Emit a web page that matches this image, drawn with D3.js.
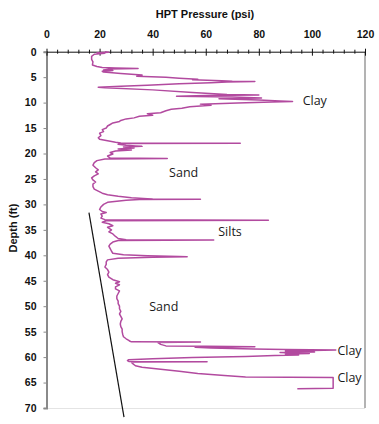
<!DOCTYPE html>
<html>
<head>
<meta charset="utf-8">
<script src="https://cdn.jsdelivr.net/npm/d3@7"></script>
<style>
  body { margin: 0; background: #fff; }
  svg { display: block; }
</style>
</head>
<body>
<svg id="chart" width="379" height="424"></svg>
<script>
// ---- Data (depth in ft, pressure in psi) ----
const depth = [
  0.0,0.1,0.2,0.3,0.5,0.9,1.5,2.0,2.6,2.9,3.1,3.2,3.3,3.4,3.6,3.7,3.85,4.0,
  4.3,4.6,4.8,5.0,5.2,5.4,5.5,5.7,5.8,5.85,5.95,6.1,
  6.3,6.6,6.8,7.0,7.1,
  7.5,8.0,8.4,8.5,8.6,8.75,8.9,9.1,9.25,9.5,9.7,9.8,9.9,10.1,10.3,10.5,10.8,11.1,11.3,11.6,12.0,12.2,12.5,12.7,13.0,13.2,13.5,13.7,14.0,14.3,
  14.6,15.0,15.3,15.7,16.0,16.5,16.9,17.2,17.5,17.8,17.95,18.0,18.05,18.2,18.4,18.6,18.7,18.9,19.1,19.3,19.5,19.8,20.1,20.5,20.9,21.0,21.1,21.4,
  21.8,22.3,22.8,23.2,23.6,24.0,24.4,24.8,25.2,25.6,26.0,26.5,27.0,27.4,27.8,28.1,28.4,28.7,28.9,28.95,29.0,29.05,29.2,29.4,
  29.6,30.0,30.5,31.0,31.4,31.6,31.9,32.3,32.7,33.0,33.1,33.2,33.5,33.8,34.2,34.5,35.0,35.4,35.8,36.3,36.7,36.95,37.0,37.1,37.4,37.8,38.2,38.7,39.2,39.6,39.9,40.1,40.25,40.3,40.4,40.6,40.9,41.3,41.8,42.3,42.8,43.3,
  43.8,44.3,44.8,45.2,45.5,45.8,46.2,46.6,47.0,47.5,48.0,48.5,49.0,49.5,50.0,50.5,51.0,51.5,52.0,52.5,53.0,53.5,54.0,54.5,55.0,55.5,56.0,56.4,56.7,56.9,
  57.0,57.05,57.15,57.5,57.8,57.85,57.95,58.05,58.2,58.4,58.5,58.6,58.7,58.8,59.0,59.1,59.3,59.4,59.6,59.7,59.9,60.1,60.3,60.5,60.7,60.85,60.9,61.0,61.3,61.7,62.0,62.4,62.8,63.2,63.6,63.9,64.0,66.1,66.2
];
const pressure = [
  22,23.5,19,22,18,17,17,17.5,17.3,19,21,26,34.5,24,21.5,25,21,21.5,
  28,36,34,45,50,57,55,66,70,78.5,68,62,
  50,38,28,19.5,22,
  40,55,68,80,60,49,70,81,65,80,88,92.7,85,72,58,62,54,51,47,45,43,38,40,35,33,30,28,27.5,25,24,
  23,22.5,21,21.5,20,20.5,19.5,20,23,26,28,73,30,27,30,36,29,33,27,32,26,24,25,23,24,45.5,22,19,
  18,17.5,18.5,19.5,18.5,19.5,18,17,17.5,18.5,17.5,17.5,18,19.5,21,23,27,32,38,40,58,35,30,26.5,
  23,21.5,20.5,20,21,22.5,20.5,21,20.5,22,83.6,22.5,21,23.5,25,23,24.5,23.5,25,26,27,30,63,27,25,24,23.5,24,24.5,25,29,38,50,53,40,27,23,22.5,22.5,22,23,23.5,
  23,23.5,25,27.5,26,27.5,26,26,27.5,27,26.5,26.5,27,27,27.5,27.5,28,27.5,28,28.5,28,27.8,28,28.5,28.5,28.7,29,30,31,31.5,
  32,58,42,43,45,60,78.5,56,62,78,90,109,100,90,101,88,99,90,95,86,75,55,40,31,30.5,31,60.5,32,32.5,33.5,36,43,50,57,67,75,108,108,94.5
];
// reference (straight) line
const refDepth = [31.6, 71.8];
const refPressure = [16.0, 29.2];

const xTicks = [0, 20, 40, 60, 80, 100, 120];
const yTicks = [0, 5, 10, 15, 20, 25, 30, 35, 40, 45, 50, 55, 60, 65, 70];

const annotations = [
  { text: "Clay",  p: 96.5, d: 10.4 },
  { text: "Sand",  p: 46.2, d: 24.6 },
  { text: "Silts", p: 64.7, d: 36.3 },
  { text: "Sand",  p: 38.7, d: 51.0 },
  { text: "Clay",  p: 109.6, d: 59.5 },
  { text: "Clay",  p: 109.6, d: 64.9 }
];

// ---- Layout ----
const svg = d3.select("#chart");
const x = d3.scaleLinear().domain([0, 120]).range([46.5, 365]);
const y = d3.scaleLinear().domain([0, 70]).range([51.7, 408]);

const font = "'Liberation Sans', Arial, sans-serif";

// frame: right & bottom borders
svg.append("line").attr("x1", 365).attr("x2", 365).attr("y1", y(0)).attr("y2", y(70))
  .attr("stroke", "#9a9a9a").attr("stroke-width", 1.5);
svg.append("line").attr("x1", x(0)).attr("x2", 365).attr("y1", y(70) + 0.5).attr("y2", y(70) + 0.5)
  .attr("stroke", "#e4e4e4").attr("stroke-width", 1);

// left axis
const yAxis = svg.append("g").attr("transform", `translate(${x(0)},0)`)
  .call(d3.axisLeft(y).tickValues(yTicks).tickSize(3).tickPadding(7));
yAxis.select(".domain").attr("stroke", "#8a8a8a").attr("stroke-width", 2);
yAxis.selectAll(".tick line").attr("stroke", "#8a8a8a");
yAxis.selectAll(".tick text").attr("font-family", font).attr("font-weight", "bold")
  .attr("font-size", 10.5).attr("fill", "#111");

// top axis (minor ticks every 4 psi)
const xAxis = svg.append("g").attr("transform", `translate(0,${y(0)})`)
  .call(d3.axisTop(x).tickValues(d3.range(0, 121, 4))
    .tickFormat(d => (xTicks.includes(d) ? d : "")).tickSizeOuter(0));
xAxis.select(".domain").attr("stroke", "#111").attr("stroke-width", 1);
xAxis.selectAll(".tick line")
  .attr("y1", d => (xTicks.includes(d) ? -3 : -2))
  .attr("y2", d => (xTicks.includes(d) ? 4 : 2))
  .attr("stroke", "#111");
xAxis.selectAll(".tick text").attr("y", -14).attr("dy", 0)
  .attr("font-family", font).attr("font-weight", "bold")
  .attr("font-size", 10.5).attr("fill", "#111");

// axis titles
svg.append("text").attr("x", 205).attr("y", 18).attr("text-anchor", "middle")
  .attr("font-family", font).attr("font-weight", "bold").attr("font-size", 11)
  .attr("fill", "#111").text("HPT Pressure (psi)");
svg.append("text").attr("transform", "translate(17,228) rotate(-90)")
  .attr("text-anchor", "middle").attr("font-family", font).attr("font-weight", "bold")
  .attr("font-size", 11).attr("fill", "#111").text("Depth (ft)");

// reference line
const pts = refDepth.map((d, i) => [refPressure[i], d]);
svg.append("path")
  .attr("d", d3.line().x(p => x(p[0])).y(p => y(p[1]))(pts))
  .attr("fill", "none").attr("stroke", "#111").attr("stroke-width", 1.2);

// HPT trace
const trace = depth.map((d, i) => [pressure[i], d]);
svg.append("path")
  .attr("d", d3.line().x(p => x(p[0])).y(p => y(p[1]))(trace))
  .attr("fill", "none").attr("stroke", "#b24a9f").attr("stroke-width", 1.5)
  .attr("stroke-linejoin", "round");

// annotations
svg.selectAll(".ann").data(annotations).join("text")
  .attr("class", "ann")
  .attr("x", d => x(d.p)).attr("y", d => y(d.d))
  .attr("font-family", "'Open Sans', 'Liberation Sans', sans-serif")
  .attr("font-size", 12.5).attr("fill", "#1a1a1a")
  .text(d => d.text);
</script>
</body>
</html>
